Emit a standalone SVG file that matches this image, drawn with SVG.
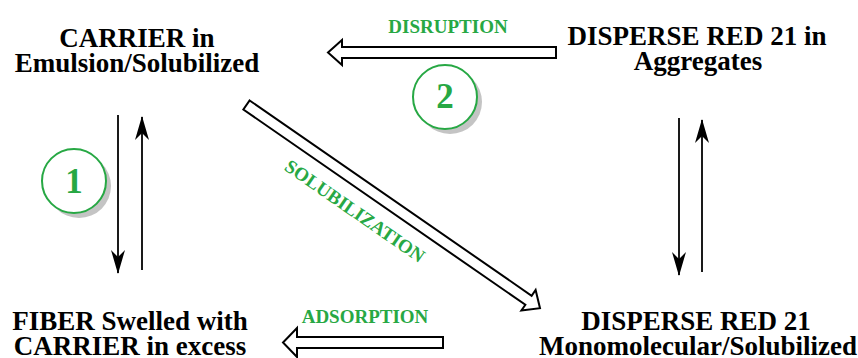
<svg xmlns="http://www.w3.org/2000/svg" width="858" height="358" viewBox="0 0 858 358">
<defs>
<style>
.lbl{font-family:"Liberation Serif","Times New Roman",serif;font-weight:bold;font-size:27px;fill:#000;text-anchor:middle}
.grn{font-family:"Liberation Serif","Times New Roman",serif;font-weight:bold;font-size:19px;fill:#27a844;text-anchor:middle}
.num{font-family:"Liberation Serif","Times New Roman",serif;font-weight:bold;font-size:35px;fill:#27a844;text-anchor:middle}
.hollow{fill:#fff;stroke:#000;stroke-width:2;stroke-linejoin:miter}
.thin{stroke:#1a1a1a;stroke-width:2;fill:none;marker-end:url(#ah)}
.ring{fill:#fff;stroke:#27a844;stroke-width:2}
.shadow{fill:#c4c4c4}
</style>
<marker id="ah" viewBox="0 0 24 14" refX="23" refY="7" markerWidth="24" markerHeight="14" markerUnits="userSpaceOnUse" orient="auto">
<path d="M0,0 L24,7 L0,14 L7,7 Z" fill="#000"/>
</marker>
</defs>
<rect width="858" height="358" fill="#fff"/>

<g id="connectors">
<polygon class="hollow" points="556,47 342,47 342,40 328,52.5 342,65 342,58 556,58"/>
<polygon class="hollow" points="443,337 297,337 297,328 283,342.5 297,357 297,348 443,348"/>
<polygon class="hollow" transform="translate(246.5,105) rotate(34.7)" points="0,-5.5 343,-5.5 343,-12.5 357,0 343,12.5 343,5.5 0,5.5"/>
<line class="thin" x1="118" y1="115" x2="118" y2="273"/>
<line class="thin" x1="142" y1="270" x2="142" y2="117"/>
<line class="thin" x1="679" y1="118" x2="679" y2="275"/>
<line class="thin" x1="702" y1="272" x2="702" y2="120"/>
<text class="grn" x="448" y="33">DISRUPTION</text>
<text class="grn" x="365" y="323">ADSORPTION</text>
<text class="grn" transform="translate(355,211) rotate(34.7)" x="0" y="6.5">SOLUBILIZATION</text>
</g>

<g id="carrier">
<text class="lbl" x="137" y="47">CARRIER in</text>
<text class="lbl" x="137" y="72">Emulsion/Solubilized</text>
</g>
<g id="aggregates">
<text class="lbl" x="697" y="45">DISPERSE RED 21 in</text>
<text class="lbl" x="698" y="70">Aggregates</text>
</g>
<g id="fiber">
<text class="lbl" x="130" y="330">FIBER Swelled with</text>
<text class="lbl" x="130" y="355">CARRIER in excess</text>
</g>
<g id="monomolecular">
<text class="lbl" x="696" y="330">DISPERSE RED 21</text>
<text class="lbl" x="698" y="355">Monomolecular/Solubilized</text>
</g>
<g id="badge1">
<circle class="shadow" cx="79" cy="186" r="32"/>
<circle class="ring" cx="74" cy="181" r="32"/>
<text class="num" x="74" y="193">1</text>
</g>
<g id="badge2">
<circle class="shadow" cx="450" cy="102" r="32"/>
<circle class="ring" cx="445" cy="97" r="32"/>
<text class="num" x="445" y="108">2</text>
</g>
</svg>
